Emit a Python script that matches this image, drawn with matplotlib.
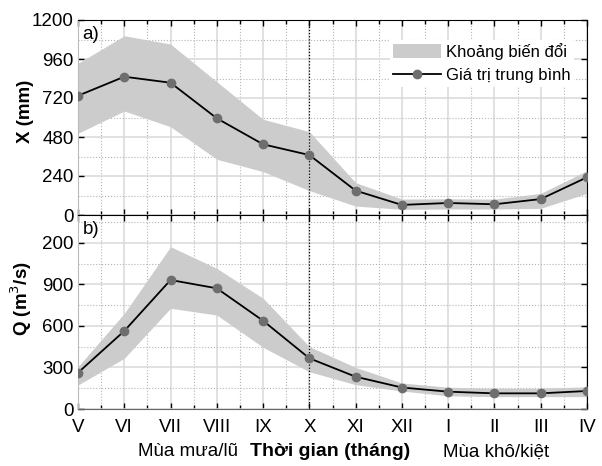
import matplotlib
matplotlib.use("Agg")
import matplotlib.pyplot as plt
from matplotlib.patches import Patch
from matplotlib.lines import Line2D

plt.rcParams['font.family'] = ['Liberation Sans', 'DejaVu Sans']

# thang (tu thang V den thang IV nam sau)
months = ['V', 'VI', 'VII', 'VIII', 'IX', 'X', 'XI', 'XII', 'I', 'II', 'III', 'IV']

# luong mua X (mm)
x_mean = [734, 851, 814, 595, 435, 369, 150, 62, 74, 66, 98, 232]
x_upper = [933, 1103, 1052, 820, 589, 513, 199, 98, 100, 98, 133, 273]
x_lower = [503, 640, 543, 343, 267, 150, 55, 35, 37, 37, 41, 133]

# luu luong Q (m3/s)
q_mean = [262, 563, 931, 871, 637, 366, 233, 155, 125, 113, 113, 130]
q_upper = [305, 690, 1171, 1015, 799, 450, 300, 188, 157, 150, 150, 160]
q_lower = [173, 366, 727, 678, 445, 269, 175, 130, 95, 89, 89, 89]

x_yticks = [0, 240, 480, 720, 960, 1200]
q_yticks = [0, 300, 600, 900, 1200]
q_yticklabels = ['0', '300', '600', '900', '200']

band_col = '#cccccc'
mark_col = '#6e6e6e'
fs = 13.5
pos = list(range(len(months)))

fig = plt.figure(figsize=(6.02, 4.66), dpi=100)
ax1 = fig.add_axes([78/602, 1-215/466, 509/602, 195/466])
ax2 = fig.add_axes([78/602, 1-409/466, 509/602, 194/466])


def style(ax, yticks, ymax, yminor):
    ax.set_xlim(0, len(months)-1)
    ax.set_ylim(0, ymax)
    ax.set_xticks(pos)
    ax.set_xticks([p + 0.5 for p in pos[:-1]], minor=True)
    ax.set_yticks(yticks)
    ax.set_yticks(yminor, minor=True)
    ax.set_axisbelow(True)
    ax.grid(which='major', color='#d8d8d8', lw=1.1, ls='-')
    ax.grid(which='minor', color='#b5b5b5', lw=0.8, ls=':')
    ax.tick_params(which='both', direction='in', top=True, right=True,
                   labelsize=fs, length=4, width=1, colors='black')
    ax.tick_params(which='minor', length=3)
    ax.tick_params(axis='y', which='minor', length=0)
    ax.tick_params(axis='y', pad=3)
    for s in ['top', 'right']:
        ax.spines[s].set_color('black')
    ax.spines['left'].set_color('#bbbbbb')
    ax.spines['bottom'].set_color('#666666')
    ax.axvline(5, color='black', ls=(0, (1, 1.5)), lw=0.9, zorder=4)


# a) luong mua
ax1.fill_between(pos, x_lower, x_upper, color=band_col, lw=0, zorder=2)
ax1.plot(pos, x_mean, color='black', lw=1.3, marker='o', ms=6,
         mfc=mark_col, mec=mark_col, zorder=5)
style(ax1, x_yticks, 1200, list(range(120, 1200, 240)))
ax1.set_xticklabels([])
ax1.set_ylabel('X (mm)', fontsize=fs, fontweight='bold')
ax1.yaxis.set_label_coords(-0.087, 0.53)
ax1.text(0.1, 1085, 'a)', fontsize=fs)

handles = [Patch(facecolor=band_col, edgecolor='none'),
           Line2D([], [], color='black', lw=1.3, marker='o', ms=6,
                  mfc=mark_col, mec=mark_col)]
leg = ax1.legend(handles, ['Khoảng biến đổi', 'Giá trị trung bình'],
                 loc='upper right', bbox_to_anchor=(0.975, 0.9), fontsize=12,
                 frameon=True, fancybox=False, framealpha=1, edgecolor='none',
                 handlelength=2.9, handleheight=0.95, handletextpad=0.3,
                 borderpad=0.2, labelspacing=0.45, borderaxespad=0)

# b) luu luong
ax2.fill_between(pos, q_lower, q_upper, color=band_col, lw=0, zorder=2)
ax2.plot(pos, q_mean, color='black', lw=1.3, marker='o', ms=6,
         mfc=mark_col, mec=mark_col, zorder=5)
style(ax2, q_yticks, 1400, list(range(150, 1400, 300)))
ax2.set_yticklabels(q_yticklabels)
ax2.set_xticklabels(months)
ax2.tick_params(axis='x', pad=7)
ax2.set_ylabel('Q (m$^3$/s)', fontsize=fs, fontweight='bold')
ax2.yaxis.set_label_coords(-0.087, 0.57)
ax2.text(0.1, 1262, 'b)', fontsize=fs)

fig.text(188/602, 1-452/466, 'Mùa mưa/lũ', fontsize=fs, ha='center', va='center')
fig.text(330/602, 1-452/466, 'Thời gian (tháng)', fontsize=14, fontweight='bold',
         ha='center', va='center')
fig.text(496/602, 1-452/466, 'Mùa khô/kiệt', fontsize=fs, ha='center', va='center')

fig.savefig('out.png', dpi=100)
